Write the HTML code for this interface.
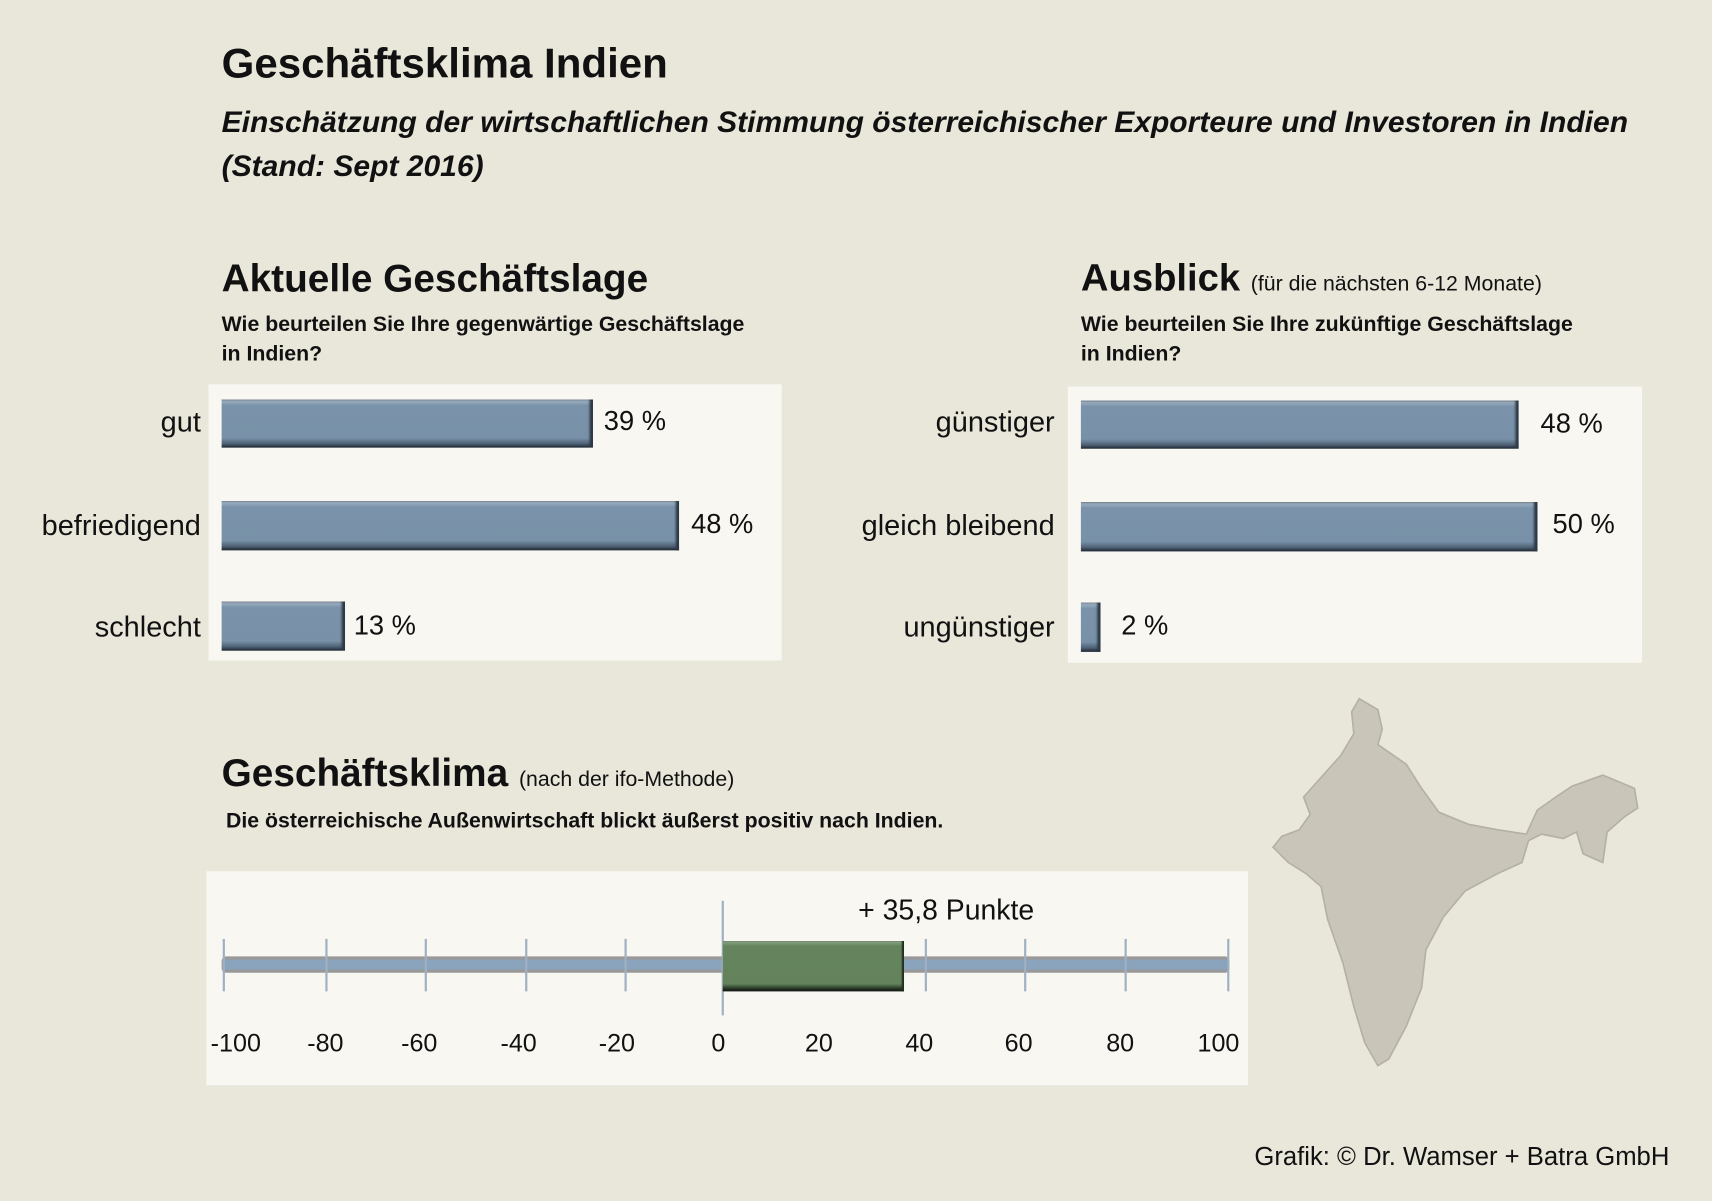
<!DOCTYPE html>
<html><head><meta charset="utf-8"><style>
html,body{margin:0;padding:0;background:#e9e6da;overflow:hidden}
#w{position:absolute;left:0;top:0;width:1568px;height:1100px;transform:scale(1.0918);transform-origin:0 0;font-family:"Liberation Sans Narrow","Liberation Sans",sans-serif;color:#111}
.t{position:absolute;white-space:nowrap}
.p{position:absolute;background:#f8f7f2}
.bar{position:absolute;background:linear-gradient(#a7b8c8 0,#7a93aa 12%,#7891a8 80%,#4e6174 92%,#1e2630 100%);box-shadow:inset -3px 0 2px #2d3845}
.lab{position:absolute;font-size:26.5px;text-align:right;width:180px}
.val{position:absolute;font-size:25px}
.tick{position:absolute;width:1.5px;background:#9fb0c2;top:860px;height:48px}
.ax{position:absolute;font-size:23px;width:60px;text-align:center;top:942px}
</style></head><body><div id="w">
<div class="t" style="left:203px;top:37px;font-size:38.5px;font-weight:bold">Geschäftsklima Indien</div>
<div class="t" style="left:203px;top:92px;font-size:27.5px;font-weight:bold;font-style:italic;line-height:40px">Einschätzung der wirtschaftlichen Stimmung österreichischer Exporteure und Investoren in Indien<br>(Stand: Sept 2016)</div>

<div class="t" style="left:203px;top:235px;font-size:35.5px;font-weight:bold">Aktuelle Geschäftslage</div>
<div class="t" style="left:203px;top:284px;font-size:19.5px;font-weight:bold;line-height:27px">Wie beurteilen Sie Ihre gegenwärtige Geschäftslage<br>in Indien?</div>
<div class="t" style="left:990px;top:235px;font-size:35px;font-weight:bold">Ausblick <span style="font-size:19.5px;font-weight:normal">(für die nächsten 6-12 Monate)</span></div>
<div class="t" style="left:990px;top:284px;font-size:19.5px;font-weight:bold;line-height:27px">Wie beurteilen Sie Ihre zukünftige Geschäftslage<br>in Indien?</div>

<div class="p" style="left:191px;top:352px;width:525px;height:253px"></div>
<div class="p" style="left:978px;top:354px;width:526px;height:253px"></div>

<div class="lab" style="left:4px;top:371px">gut</div>
<div class="lab" style="left:4px;top:466px">befriedigend</div>
<div class="lab" style="left:4px;top:559px">schlecht</div>
<div class="bar" style="left:203px;top:366px;width:340px;height:44px"></div>
<div class="bar" style="left:203px;top:459px;width:419px;height:45px"></div>
<div class="bar" style="left:203px;top:551px;width:113px;height:45px"></div>
<div class="val" style="left:553px;top:372px">39 %</div>
<div class="val" style="left:633px;top:466px">48 %</div>
<div class="val" style="left:324px;top:559px">13 %</div>

<div class="lab" style="left:786px;top:371px">günstiger</div>
<div class="lab" style="left:786px;top:466px">gleich bleibend</div>
<div class="lab" style="left:786px;top:559px">ungünstiger</div>
<div class="bar" style="left:990px;top:367px;width:401px;height:44px"></div>
<div class="bar" style="left:990px;top:460px;width:418px;height:45px"></div>
<div class="bar" style="left:990px;top:552px;width:18px;height:45px"></div>
<div class="val" style="left:1411px;top:374px">48 %</div>
<div class="val" style="left:1422px;top:466px">50 %</div>
<div class="val" style="left:1027px;top:559px">2 %</div>

<div class="t" style="left:203px;top:688px;font-size:35.5px;font-weight:bold">Geschäftsklima <span style="font-size:19.5px;font-weight:normal">(nach der ifo-Methode)</span></div>
<div class="t" style="left:207px;top:741px;font-size:19.5px;font-weight:bold">Die österreichische Außenwirtschaft blickt äußerst positiv nach Indien.</div>

<div class="p" style="left:189px;top:798px;width:954px;height:196px"></div>
<div style="position:absolute;left:203px;top:876px;width:923px;height:15px;background:#999;border-radius:4px"></div>
<div style="position:absolute;left:205px;top:879px;width:919px;height:9px;background:#8aa4bd"></div>
<div class="tick" style="left:204px"></div><div class="tick" style="left:298px"></div><div class="tick" style="left:389px"></div><div class="tick" style="left:481px"></div><div class="tick" style="left:572px"></div>
<div class="tick" style="left:847px"></div><div class="tick" style="left:938px"></div><div class="tick" style="left:1030px"></div><div class="tick" style="left:1124px"></div>
<div style="position:absolute;left:661px;top:825px;width:1.5px;height:105px;background:#9fb0c2"></div>
<div style="position:absolute;left:662px;top:862px;width:166px;height:46px;background:linear-gradient(#8aa684 0,#65845e 10%,#64835d 85%,#2a3a27 94%,#111 100%);box-shadow:inset -2px 0 1px #233020"></div>
<div class="t" style="left:786px;top:818px;font-size:26px">+ 35,8 Punkte</div>
<div class="ax" style="left:186px">-100</div><div class="ax" style="left:268px">-80</div><div class="ax" style="left:354px">-60</div><div class="ax" style="left:445px">-40</div><div class="ax" style="left:535px">-20</div><div class="ax" style="left:628px">0</div><div class="ax" style="left:720px">20</div><div class="ax" style="left:812px">40</div><div class="ax" style="left:903px">60</div><div class="ax" style="left:996px">80</div><div class="ax" style="left:1086px">100</div>

<svg style="position:absolute;left:0;top:0" width="1568" height="1100"><path d="M1245,640 L1262,650 L1266,668 L1262,682 L1288,700 L1302,722 L1318,744 L1345,755 L1372,760 L1398,764 L1408,742 L1425,730 L1440,720 L1468,710 L1497,722 L1500,740 L1488,748 L1472,762 L1468,790 L1450,782 L1444,762 L1432,768 L1412,764 L1400,770 L1394,790 L1372,800 L1342,816 L1322,840 L1306,870 L1302,905 L1288,940 L1272,970 L1262,976 L1250,955 L1240,922 L1230,882 L1216,842 L1210,812 L1196,800 L1180,790 L1166,776 L1174,766 L1190,760 L1200,746 L1194,730 L1210,712 L1228,692 L1240,672 L1238,652 Z" fill="#c9c6b9" stroke="#b4b1a4" stroke-width="1.5"/></svg>

<div class="t" style="right:39px;top:1046px;font-size:23.5px">Grafik: © Dr. Wamser + Batra GmbH</div>
</div></body></html>
